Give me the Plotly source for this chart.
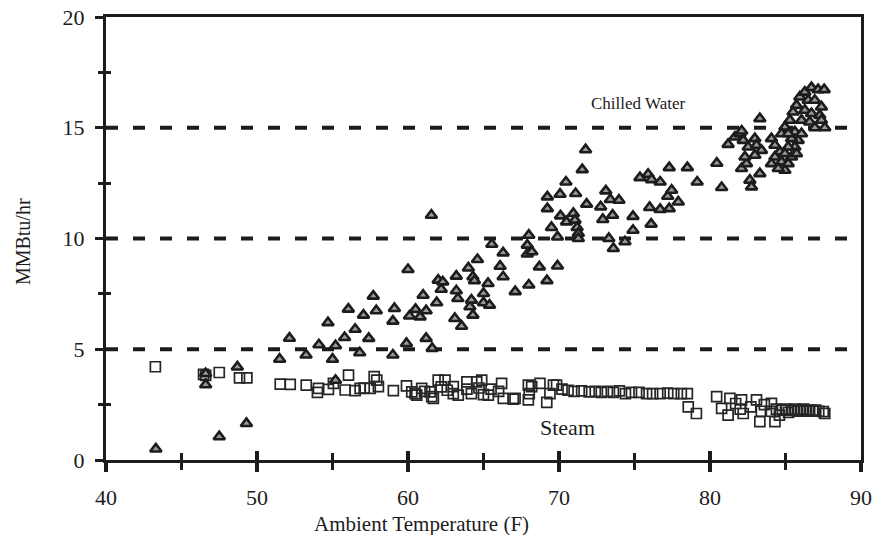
import plotly.graph_objects as go

# Chilled water load (MMBtu/hr) against ambient temperature (F)
chilled_temp = [
    43.3, 46.6, 46.6, 47.5, 48.7, 49.3,
    51.5, 52.15, 53.25, 54.1, 54.7, 55.0, 55.2, 55.2, 55.8, 56.05, 56.5, 56.8, 57.05, 57.4, 57.7, 57.9,
    59.0, 59.0, 59.1, 59.9, 60.0, 60.1, 60.5, 60.8, 61.0, 61.2, 61.2, 61.55, 61.6, 61.9, 62.0, 62.2, 62.3,
    63.1, 63.2, 63.2, 63.3, 63.55, 64.0, 64.1, 64.2, 64.3, 64.3, 64.4, 64.6,
    65.0, 65.0, 65.3, 65.4, 65.55, 66.1, 66.3, 66.3, 67.1, 67.9, 67.9, 68.0, 68.2, 68.0, 68.7, 69.2, 69.9,
    69.23, 69.23, 69.5, 69.9, 70.07, 70.1, 70.46, 70.5, 70.95, 71.06, 71.1, 71.2, 71.28, 71.28, 71.54, 71.76, 71.83,
    72.76, 72.9, 73.1, 73.3, 73.4, 73.55, 73.6, 73.97, 74.37, 74.9, 74.9,
    75.36, 75.9, 76.0, 76.1, 76.13, 76.7, 76.7, 77.2, 77.3, 77.3, 77.46, 77.9, 78.5, 79.15, 80.45, 80.77,
    81.2, 81.65, 81.98, 82.1, 82.2, 82.53, 82.97, 83.08, 83.41, 82.09, 82.42, 82.64, 82.75, 83.3, 82.31, 82.97, 83.3,
    84.07, 84.3, 84.63, 84.3, 84.07, 84.74, 84.96, 84.52, 85.4, 85.62, 85.84, 85.18, 84.96, 85.29, 85.5, 85.73,
    85.95, 86.28, 86.72, 87.16, 87.56, 86.5, 86.94, 87.38, 86.28, 86.72, 87.27, 86.06, 86.6, 87.38, 86.94, 87.6,
    85.62, 86.06, 85.4, 85.73, 85.18, 84.96, 84.74, 85.18,
]
chilled_load = [
    0.5, 3.4, 3.9, 1.05, 4.2, 1.65,
    4.55, 5.5, 4.74, 5.2, 6.2, 4.55, 3.6, 5.16, 5.53, 6.81, 5.9, 4.84, 6.54, 5.49, 7.4, 6.74,
    6.27, 4.74, 6.84, 5.26, 8.6, 6.5, 6.8, 6.46, 7.44, 6.74, 5.49, 11.05, 5.04, 7.1, 8.12, 7.71, 8.04,
    6.39, 8.3, 7.64, 7.29, 6.04, 8.67, 6.92, 7.22, 6.54, 8.27, 8.1, 9.05,
    7.52, 7.1, 7.97, 6.99, 9.74, 8.75, 9.35, 8.27, 7.6, 9.7, 9.3, 10.15, 9.4, 7.9, 8.72, 8.1, 8.76,
    11.88, 11.35, 10.5, 10.07, 12.0, 11.02, 12.55, 10.75, 11.13, 10.83, 12.03, 10.5, 10.23, 10.0, 13.11, 14.01, 11.55,
    11.43, 10.86, 12.15, 10.0, 11.76, 11.05, 9.55, 11.73, 9.85, 11.0, 10.37,
    12.75, 12.9, 11.4, 10.65, 12.66, 12.55, 11.31, 11.91, 11.35, 13.2, 12.18, 11.65, 13.2, 12.55, 13.4, 12.3,
    14.25, 14.58, 14.73, 14.85, 14.43, 14.13, 14.51, 14.21, 13.98, 13.16, 13.38, 12.63, 12.33, 12.93, 13.68, 13.76, 15.41,
    14.51, 14.21, 13.91, 13.68, 13.38, 13.46, 13.08, 13.16, 13.68, 14.13, 14.43, 14.13, 15.03, 15.34, 15.71, 16.01,
    16.39, 16.61, 16.81, 16.72, 16.72, 16.24, 16.24, 15.94, 15.79, 15.64, 15.56, 15.34, 15.26, 15.34, 15.0, 15.0,
    14.81, 14.73, 14.51, 13.83, 13.38, 13.83, 14.73, 14.73,
]

# Steam load (MMBtu/hr) against ambient temperature (F)
steam_temp = [
    43.27, 46.46, 46.6, 47.5, 48.84, 49.33, 51.54, 52.2, 53.26, 54.07, 54.0, 54.73, 55.06, 55.84, 56.06,
    56.5, 56.83, 57.1, 57.5, 57.76, 57.93, 58.04, 59.03, 59.9, 60.25, 60.47, 60.58, 60.91, 61.1, 61.46,
    61.57, 61.68, 62.0, 62.45, 62.2, 62.6, 63.0, 63.0, 63.33, 63.9, 63.9, 64.2, 64.55, 64.88, 64.7, 65.0,
    65.32, 65.5, 66.2, 66.0, 66.31, 66.97, 67.09, 67.97, 68.03, 67.97, 68.19, 68.74, 69.19, 69.4, 69.63,
    69.84, 70.2, 70.6, 71.0, 71.5, 72.0, 72.4, 72.8, 73.2, 73.6, 74.0, 74.4, 74.8, 75.3, 75.8, 76.2, 76.7,
    77.2, 77.6, 78.1, 78.5, 78.56, 79.1, 80.44, 80.77, 81.32, 81.2, 81.7, 82.0, 82.09, 82.2, 83.08, 82.7,
    83.3, 83.4, 83.6, 84.07, 84.3, 84.0, 84.4, 84.6, 84.8, 85.0, 85.2, 85.4, 85.6, 85.8, 86.0, 86.2, 86.4,
    86.6, 86.8, 87.0, 87.2, 87.5, 87.6,
]
steam_load = [
    4.21, 3.87, 3.82, 3.95, 3.71, 3.71, 3.43, 3.41, 3.38, 3.23, 3.05, 3.19, 3.46, 3.16, 3.83,
    3.13, 3.23, 3.25, 3.23, 3.76, 3.61, 3.31, 3.13, 3.35, 3.08, 3.0, 2.93, 3.23, 3.1, 3.08,
    2.86, 2.78, 3.61, 3.61, 3.3, 3.15, 3.31, 3.0, 2.93, 3.53, 3.2, 3.0, 3.53, 3.61, 3.25, 2.95,
    2.93, 3.2, 3.46, 3.1, 2.78, 2.75, 2.78, 3.38, 3.0, 2.71, 3.31, 3.46, 2.6, 3.0, 3.38,
    3.38, 3.2, 3.15, 3.1, 3.12, 3.08, 3.1, 3.05, 3.1, 3.05, 3.12, 3.0, 3.05, 3.05, 3.0, 3.0, 3.0,
    3.02, 3.0, 3.0, 3.0, 2.4, 2.1, 2.86, 2.33, 2.78, 2.03, 2.55, 2.3, 2.71, 2.1, 2.71, 2.4,
    1.73, 2.2, 2.5, 2.56, 1.73, 2.2, 2.3, 2.03, 2.25, 2.3, 2.15, 2.25, 2.3, 2.2, 2.25, 2.3, 2.2,
    2.25, 2.2, 2.25, 2.2, 2.18, 2.1,
]

x_range = [40, 90]
y_range = [0, 20]
grid_levels = [5, 10, 15]

INK = "#1c1c1c"
FONT = "Liberation Serif, Times New Roman, serif"

fig = go.Figure()

fig.add_trace(go.Scatter(
    x=steam_temp, y=steam_load, mode="markers", name="Steam",
    marker=dict(symbol="square-open", size=10, color="#262626", line=dict(width=1.7)),
))
fig.add_trace(go.Scatter(
    x=chilled_temp, y=chilled_load, mode="markers", name="Chilled Water",
    marker=dict(symbol="triangle-up", size=10, color="#9a9a9a", line=dict(width=2.6, color=INK)),
))
# empty trace so the overlay axes (inner half of each tick) get drawn
fig.add_trace(go.Scatter(x=[], y=[], xaxis="x2", yaxis="y2", showlegend=False, hoverinfo="skip"))

for level in grid_levels:
    fig.add_hline(y=level, line=dict(color=INK, width=4, dash="12px,15px"), layer="below")

tick_common = dict(tickcolor=INK, showgrid=False, zeroline=False, automargin=False)

fig.update_layout(
    width=875, height=535,
    margin=dict(l=106, r=14, t=17, b=75),
    paper_bgcolor="white", plot_bgcolor="white",
    showlegend=False,
    font=dict(family=FONT, size=22, color=INK),
    xaxis=dict(
        range=x_range, tick0=40, dtick=10, ticks="outside", ticklen=9, tickwidth=4,
        showline=True, linewidth=3, linecolor=INK, mirror=True,
        minor=dict(dtick=5, ticks="outside", ticklen=7, tickwidth=3, tickcolor=INK),
        ticklabelstandoff=7, **tick_common,
    ),
    yaxis=dict(
        range=y_range, tick0=0, dtick=5, ticks="outside", ticklen=8, tickwidth=3,
        showline=True, linewidth=3, linecolor=INK, mirror=True,
        minor=dict(dtick=2.5, ticks="outside", ticklen=5, tickwidth=3, tickcolor=INK),
        ticklabelstandoff=6, **tick_common,
    ),
    xaxis2=dict(
        overlaying="x", anchor="y2", range=x_range, tick0=40, dtick=10,
        ticks="inside", ticklen=9, tickwidth=4, showticklabels=False, showline=False,
        minor=dict(dtick=5, ticks="inside", ticklen=7, tickwidth=3, tickcolor=INK),
        **tick_common,
    ),
    yaxis2=dict(
        overlaying="y", anchor="x2", range=y_range, tick0=0, dtick=5,
        ticks="inside", ticklen=5, tickwidth=3, showticklabels=False, showline=False,
        minor=dict(dtick=2.5, ticks="inside", ticklen=5, tickwidth=3, tickcolor=INK),
        **tick_common,
    ),
    annotations=[
        dict(text="Chilled Water", x=75.2, y=16.1, xref="x", yref="y",
             showarrow=False, font=dict(size=17)),
        dict(text="Steam", x=70.53, y=1.49, xref="x", yref="y",
             showarrow=False, font=dict(size=22)),
        dict(text="Ambient Temperature (F)", x=0.418, y=-0.145, xref="paper", yref="paper",
             xanchor="center", yanchor="middle", showarrow=False, font=dict(size=21)),
        dict(text="MMBtu/hr", x=-0.11, y=0.494, xref="paper", yref="paper",
             xanchor="center", yanchor="middle", textangle=-90, showarrow=False,
             font=dict(size=20)),
    ],
)

fig.write_html("out.html")
